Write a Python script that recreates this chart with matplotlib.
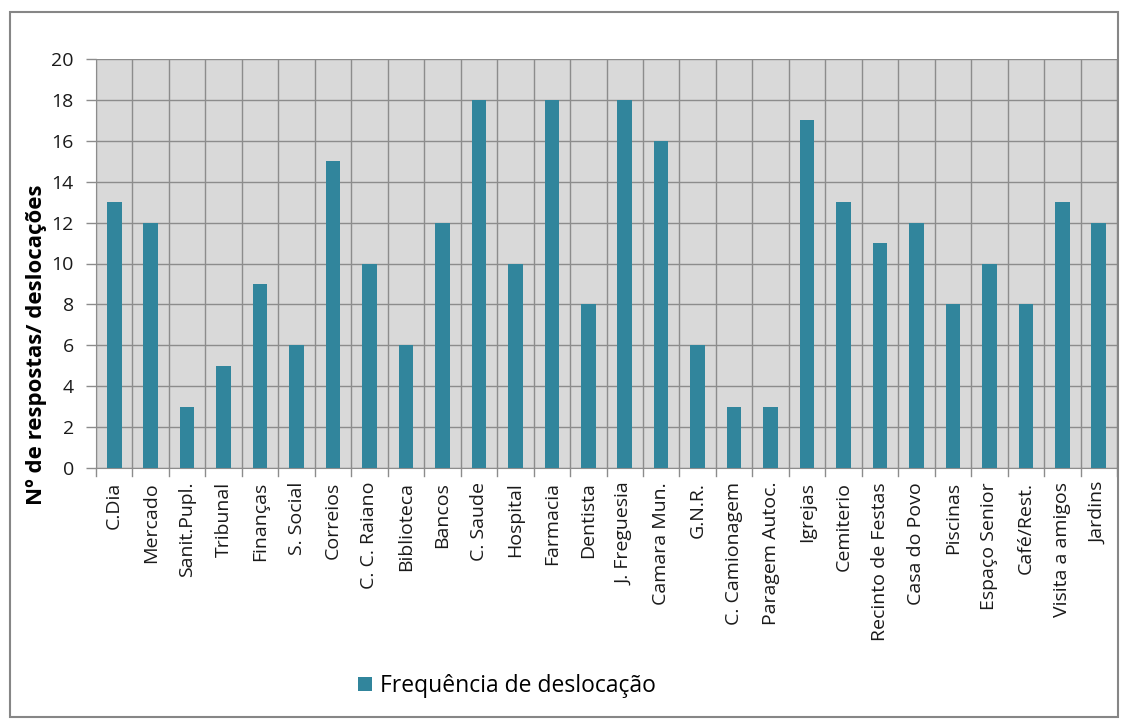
import matplotlib.pyplot as plt
from matplotlib.patches import Rectangle
import numpy as np

plt.rcParams['font.family'] = ['Open Sans', 'DejaVu Sans']

# Data
locais = ["C.Dia", "Mercado", "Sanit.Pupl.", "Tribunal", "Finanças", "S. Social",
          "Correios", "C. C. Raiano", "Biblioteca", "Bancos", "C. Saude", "Hospital",
          "Farmacia", "Dentista", "J. Freguesia", "Camara Mun.", "G.N.R.",
          "C. Camionagem", "Paragem Autoc.", "Igrejas", "Cemiterio", "Recinto de Festas",
          "Casa do Povo", "Piscinas", "Espaço Senior", "Café/Rest.", "Visita a amigos",
          "Jardins"]
frequencia = [13, 12, 3, 5, 9, 6, 15, 10, 6, 12, 18, 10, 18, 8, 18, 16, 6, 3, 3,
              17, 13, 11, 12, 8, 10, 8, 13, 12]
y_ticks = [0, 2, 4, 6, 8, 10, 12, 14, 16, 18, 20]

bar_color = "#31859C"
grid_color = "#8C8C8C"

fig = plt.figure(figsize=(11.21, 7.2), dpi=100)
ax = fig.add_axes([96 / 1121, 1 - 468 / 720, (1117 - 96) / 1121, (468 - 59) / 720])

x = np.arange(len(locais))
ax.bar(x, frequencia, width=0.4, color=bar_color, zorder=3,
       label="Frequência de deslocação")

ax.set_facecolor("#D9D9D9")
ax.set_xlim(-0.5, len(locais) - 0.5)
ax.set_ylim(0, 20)
ax.set_yticks(y_ticks)
ax.set_xticks(x)
ax.set_xticklabels(locais, rotation=90, fontsize=14, color="#1a1a1a")
ax.tick_params(axis="x", length=0, pad=10)
ax.tick_params(axis="y", labelsize=14, labelcolor="#1a1a1a", length=7,
               color=grid_color, width=1, pad=9)

# vertical gridlines at category boundaries, with ticks below the axis
for b in np.arange(-0.5, len(locais), 1.0):
    ax.axvline(b, color=grid_color, lw=1, zorder=1)
    ax.plot([b, b], [0, -0.4], color=grid_color, lw=1, clip_on=False)
ax.yaxis.grid(True, color=grid_color, lw=1, zorder=1)

for side in ["top", "right"]:
    ax.spines[side].set_visible(False)
ax.spines["left"].set_color(grid_color)
ax.spines["bottom"].set_color(grid_color)

# y-axis title (placed like the original, a bit below the axis centre)
fig.text(37 / 1121, 1 - 345 / 720, "Nº de respostas/ deslocações", rotation=90,
         fontsize=16, fontweight="bold", ha="center", va="center")

fig.legend(loc="center", bbox_to_anchor=(507 / 1121, 1 - 686 / 720), frameon=False,
           fontsize=16.5, handlelength=0.6, handleheight=0.6, handletextpad=0.35)

# outer chart border
fig.patches.append(Rectangle((10 / 1121, 3 / 720), 1108 / 1121, 705 / 720,
                             transform=fig.transFigure, fill=False,
                             edgecolor="#868686", lw=1.5))

plt.savefig("out.png", dpi=100)
